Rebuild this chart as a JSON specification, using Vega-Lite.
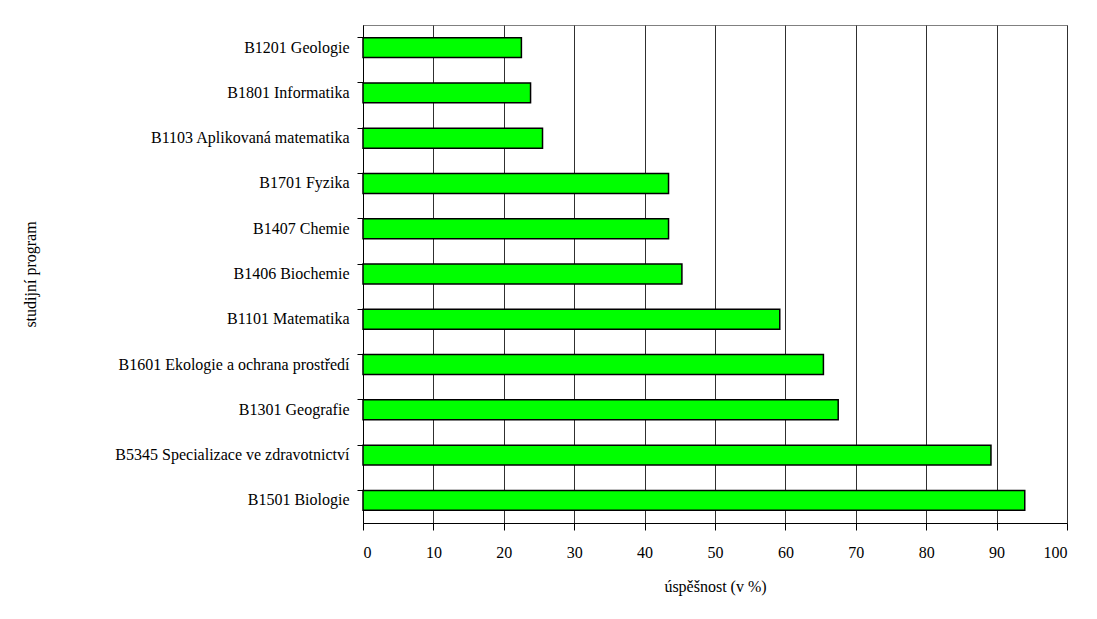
{
  "$schema": "https://vega.github.io/schema/vega-lite/v6.json",
  "autosize": "none",
  "width": 704,
  "height": 498,
  "padding": {"left": 363, "top": 25, "right": 30, "bottom": 96},
  "background": "white",
  "data": {
    "values": [
      {"program": "B1201 Geologie", "uspesnost": 22.5},
      {"program": "B1801 Informatika", "uspesnost": 23.8},
      {"program": "B1103 Aplikovaná matematika", "uspesnost": 25.5},
      {"program": "B1701 Fyzika", "uspesnost": 43.4},
      {"program": "B1407 Chemie", "uspesnost": 43.4},
      {"program": "B1406 Biochemie", "uspesnost": 45.3},
      {"program": "B1101 Matematika", "uspesnost": 59.2},
      {"program": "B1601 Ekologie a ochrana prostředí", "uspesnost": 65.4},
      {"program": "B1301 Geografie", "uspesnost": 67.5},
      {"program": "B5345 Specializace ve zdravotnictví", "uspesnost": 89.2},
      {"program": "B1501 Biologie", "uspesnost": 94.0}
    ]
  },
  "config": {
    "font": "Liberation Serif",
    "view": {"stroke": "#808080", "strokeWidth": 1},
    "axis": {
      "labelFont": "Liberation Serif",
      "titleFont": "Liberation Serif",
      "labelFontSize": 16,
      "titleFontSize": 16,
      "labelColor": "black",
      "titleColor": "black",
      "titleFontWeight": "normal",
      "domainColor": "black",
      "tickColor": "black"
    }
  },
  "mark": {"type": "bar", "color": "#00FF00", "stroke": "black", "strokeWidth": 1.5},
  "encoding": {
    "y": {
      "field": "program",
      "type": "nominal",
      "sort": null,
      "title": "studijní program",
      "scale": {"paddingInner": 0.56, "paddingOuter": 0.28},
      "axis": {
        "bandPosition": 0,
        "tickSize": 6,
        "labelPadding": 8,
        "titlePadding": 125,
        "grid": false,
        "domain": true,
        "labelLimit": 400
      }
    },
    "x": {
      "field": "uspesnost",
      "type": "quantitative",
      "title": "úspěšnost (v %)",
      "scale": {"domain": [0, 100], "nice": false},
      "axis": {
        "values": [0, 10, 20, 30, 40, 50, 60, 70, 80, 90, 100],
        "tickSize": 7,
        "labelPadding": 14,
        "titlePadding": 18,
        "grid": true,
        "gridColor": "#303030",
        "gridOpacity": 1,
        "gridWidth": 1
      }
    }
  }
}
